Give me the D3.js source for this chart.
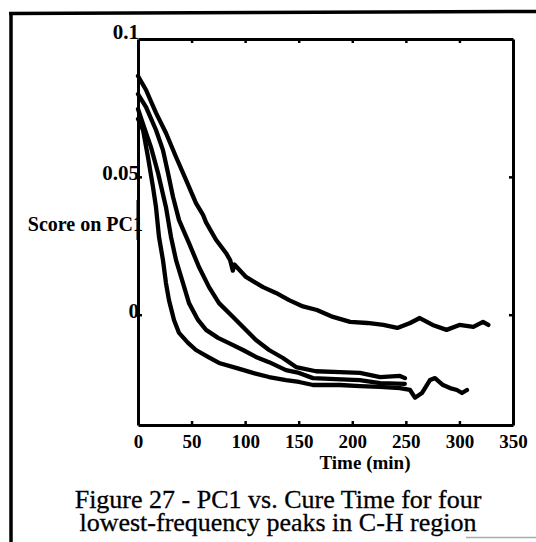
<!DOCTYPE html>
<html><head><meta charset="utf-8">
<script src="https://cdn.jsdelivr.net/npm/d3@7"></script>
<style>body{margin:0;background:#fff}svg{display:block}</style>
</head><body>
<svg id="c" width="536" height="542"></svg>
<script>
// ---- data ----
const xTicks = [0, 50, 100, 150, 200, 250, 300, 350];
const xInnerTicks = [50, 100, 150, 200, 250, 300];
const yTicks = [0.1, 0.05, 0];
const yLabels = ["0.1", "0.05", "0"];

const timeA  = [0, 7.5, 16.8, 26.1, 35.5, 44.8, 54.1, 60.7, 63.5, 72.8, 82.1, 86, 88.5, 90, 100.8, 116.7, 128.8, 141, 154, 167, 182, 198, 214, 229, 242, 254, 263, 275, 288, 300, 313, 322, 327];
const scoreA = [0.0866, 0.0815, 0.0732, 0.0659, 0.0572, 0.0489, 0.0405, 0.0362, 0.0335, 0.0272, 0.0224, 0.0198, 0.0160, 0.0182, 0.0137, 0.0100, 0.0079, 0.0053, 0.0030, 0.0017, -0.0008, -0.0026, -0.0030, -0.0037, -0.0048, -0.0030, -0.0012, -0.0037, -0.0055, -0.0037, -0.0044, -0.0026, -0.0037];

const timeB  = [0, 7.5, 16.8, 23.3, 28, 32.7, 38.3, 47.6, 56.9, 66.3, 75.6, 88.7, 98, 110.1, 122.3, 135.3, 147.5, 166.1, 188.5, 207.2, 225.9, 244.5, 249.2];
const scoreB = [0.0800, 0.0753, 0.0670, 0.0597, 0.0514, 0.0427, 0.0343, 0.0260, 0.0173, 0.0100, 0.0042, -0.0008, -0.0045, -0.0092, -0.0128, -0.0157, -0.0190, -0.0205, -0.0208, -0.0211, -0.0226, -0.0222, -0.0230];

const timeC  = [0, 5.6, 12.1, 18.7, 26.1, 30.8, 35.5, 42, 47.6, 56, 63.5, 74.7, 84.9, 98, 110.1, 122.3, 138.1, 150.3, 163.3, 179, 207, 226, 249];
const scoreC = [0.0746, 0.0681, 0.0608, 0.0514, 0.0390, 0.0282, 0.0198, 0.0115, 0.0042, -0.0019, -0.0055, -0.0084, -0.0103, -0.0128, -0.0153, -0.0172, -0.0201, -0.0211, -0.0230, -0.0233, -0.0237, -0.0248, -0.0251];

const timeD  = [0, 4.7, 9.3, 14, 16.8, 19.6, 23.3, 26.1, 28.9, 33.6, 38.3, 46.7, 54.1, 65.3, 75.6, 91.5, 107.3, 122.3, 138.1, 150.3, 163.3, 188.5, 207.2, 225.9, 244.5, 253.9, 258.5, 265, 272.5, 277.2, 284.7, 291.2, 297.7, 302.4, 307];
const scoreD = [0.0710, 0.0670, 0.0572, 0.0463, 0.0390, 0.0282, 0.0198, 0.0115, 0.0053, -0.0019, -0.0066, -0.0102, -0.0128, -0.0153, -0.0175, -0.0193, -0.0211, -0.0226, -0.0237, -0.0244, -0.0255, -0.0255, -0.0259, -0.0262, -0.0266, -0.0273, -0.0301, -0.0284, -0.0237, -0.0230, -0.0255, -0.0266, -0.0273, -0.0284, -0.0273];

const seriesTimes  = [timeA, timeB, timeC, timeD];
const seriesScores = [scoreA, scoreB, scoreC, scoreD];

const xLabel = "Time (min)";
const yLabel = "Score on PC1";
const caption = ["Figure 27 - PC1 vs. Cure Time for four", "lowest-frequency peaks in C-H region"];

// ---- layout ----
const svg = d3.select("#c");
const L = 138, R = 513, T = 39, B = 425;
const x = d3.scaleLinear().domain([0, 350]).range([L, R]);
const y = d3.scaleLinear().domain([-0.04, 0.1]).range([B, T]);
const serif = "'Liberation Serif','Times New Roman',serif";

// outer page frame (partial)
svg.append("line").attr("x1", 9).attr("y1", 13.5).attr("x2", 536).attr("y2", 11.5)
  .attr("stroke", "#000").attr("stroke-width", 3.5);
svg.append("line").attr("x1", 11).attr("y1", 12).attr("x2", 11).attr("y2", 542)
  .attr("stroke", "#000").attr("stroke-width", 3.5);
svg.append("line").attr("x1", 466).attr("y1", 537.5).attr("x2", 536).attr("y2", 537.5)
  .attr("stroke", "#aaa").attr("stroke-width", 1.5);

// axes
function styleAxis(g) {
  g.select(".domain").attr("stroke", "#000").attr("stroke-width", 3);
  g.selectAll(".tick line").attr("stroke", "#000").attr("stroke-width", 2.5);
}
const gx = svg.append("g").attr("transform", `translate(0,${B})`)
  .call(d3.axisBottom(x).tickValues(xTicks).tickSizeInner(-4).tickSizeOuter(0).tickFormat(d3.format("d")));
styleAxis(gx);
gx.selectAll(".tick line").filter(d => d === 0 || d === 350).remove();
gx.selectAll(".tick text").attr("y", 23).attr("dy", 0)
  .attr("font-family", serif).attr("font-size", 19).attr("font-weight", "bold").attr("fill", "#000");

const gt = svg.append("g").attr("transform", `translate(0,${T})`)
  .call(d3.axisTop(x).tickValues(xInnerTicks).tickSizeInner(-4).tickSizeOuter(0).tickFormat(""));
styleAxis(gt);

const gy = svg.append("g").attr("transform", `translate(${L},0)`)
  .call(d3.axisLeft(y).tickValues(yTicks).tickSizeInner(-4).tickSizeOuter(0)
    .tickFormat((d, i) => yLabels[i]));
styleAxis(gy);
gy.selectAll(".tick line").filter(d => d === 0.1).remove();
gy.selectAll(".tick text").attr("x", 1).attr("dy", 0).attr("y", d => d === 0.1 ? -1 : 3)
  .attr("text-anchor", "end")
  .attr("font-family", serif).attr("font-size", 21).attr("font-weight", "bold").attr("fill", "#000");

const gr = svg.append("g").attr("transform", `translate(${R},0)`)
  .call(d3.axisRight(y).tickValues([0.05, 0]).tickSizeInner(-4).tickSizeOuter(0).tickFormat(""));
styleAxis(gr);

// curves
const line = d3.line().x(d => x(d[0])).y(d => y(d[1]));
seriesTimes.forEach((ts, i) => {
  const pts = ts.map((t, j) => [t, seriesScores[i][j]]);
  svg.append("path").datum(pts).attr("d", line)
    .attr("fill", "none").attr("stroke", "#000").attr("stroke-width", 4.3)
    .attr("stroke-linejoin", "round").attr("stroke-linecap", "round");
});

// axis titles
svg.append("text").attr("x", 143).attr("y", 231).attr("text-anchor", "end")
  .attr("font-family", serif).attr("font-size", 20).attr("font-weight", "bold").text(yLabel);
// the y axis line runs over the label end, as in the reference
svg.append("line").attr("x1", L).attr("x2", L).attr("y1", 200).attr("y2", 240)
  .attr("stroke", "#000").attr("stroke-width", 3);
svg.append("text").attr("x", 365).attr("y", 469).attr("text-anchor", "middle")
  .attr("font-family", serif).attr("font-size", 19).attr("font-weight", "bold").text(xLabel);

// caption
caption.forEach((c, i) => {
  svg.append("text").attr("x", 278).attr("y", 508 + i * 23).attr("text-anchor", "middle")
    .attr("font-family", serif).attr("font-size", 26).attr("fill", "#000")
    .attr("stroke", "#000").attr("stroke-width", 0.3).text(c);
});
</script>
</body></html>
